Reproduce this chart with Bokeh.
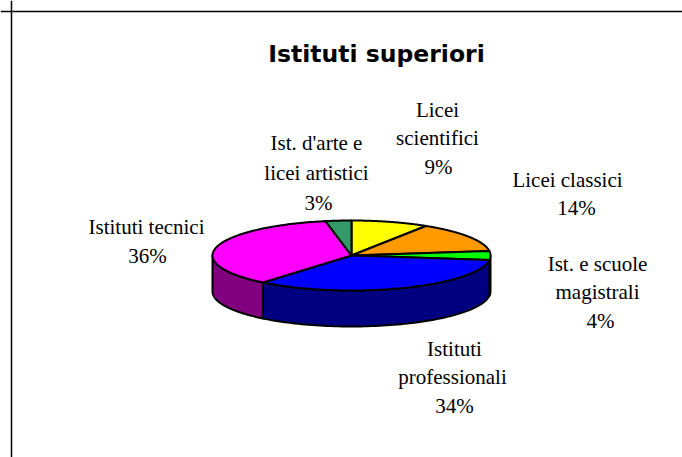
import numpy as np
from bokeh.plotting import figure
from bokeh.models import Range1d, Span
from bokeh.core.properties import value
from bokeh.embed import file_html
from bokeh.resources import INLINE

title = "Istituti superiori"
categories = ["Licei scientifici", "Licei classici", "Ist. e scuole magistrali",
              "Istituti professionali", "Istituti tecnici", "Ist. d'arte e licei artistici"]
shares = [9, 14, 4, 34, 36, 3]
top_colors = ["#ffff00", "#ff9900", "#00ff00", "#0000ff", "#ff00ff", "#339966"]
side_colors = ["#808000", "#804c00", "#008000", "#000080", "#800080", "#1a4d33"]

label_lines = [["Licei", "scientifici", "9%"], ["Licei classici", "14%"],
               ["Ist. e scuole", "magistrali", "4%"], ["Istituti", "professionali", "34%"],
               ["Istituti tecnici", "36%"], ["Ist. d'arte e", "licei artistici", "3%"]]

# layout in page pixels
CX, CY, RX, RY, DEPTH = 351, 255, 139, 35, 36
label_xs = [[437, 437, 438], [567, 576], [597, 597, 600], [454, 452, 454], [146, 147], [316, 316, 318]]
label_ys = [[109, 137, 166], [179, 207], [263, 291, 320], [348, 376, 405], [226, 255], [142, 172, 202]]

p = figure(width=682, height=457, output_backend="svg", toolbar_location=None,
           x_range=Range1d(0, 682), y_range=Range1d(457, 0), min_border=0,
           outline_line_color=None, background_fill_color="white", border_fill_color="white")
p.axis.visible = False
p.grid.visible = False

p.add_layout(Span(location=11, dimension="height", line_color="black", line_width=1.5))
p.add_layout(Span(location=11, dimension="width", line_color="black", line_width=1.5))

edges = np.cumsum([0] + shares) / sum(shares) * 2 * np.pi  # clockwise from 12 o'clock

def ex(t): return CX + RX * np.sin(t)
def ey(t): return CY - RY * np.cos(t)

# side walls: only the front half (90..270 degrees clockwise) is visible
for a, b, col in zip(edges[:-1], edges[1:], side_colors):
    lo, hi = max(a, np.pi / 2), min(b, 3 * np.pi / 2)
    if hi <= lo:
        continue
    t = np.linspace(lo, hi, 80)
    xs = np.r_[ex(t), ex(t[::-1])]
    ys = np.r_[ey(t), ey(t[::-1]) + DEPTH]
    p.patch(xs, ys, fill_color=col, line_color="black", line_width=2, line_join="round")

# top face
for a, b, col in zip(edges[:-1], edges[1:], top_colors):
    t = np.linspace(a, b, 120)
    xs = np.r_[CX, ex(t)]
    ys = np.r_[CY, ey(t)]
    p.patch(xs, ys, fill_color=col, line_color="black", line_width=2, line_join="round")

for lines, xs, ys in zip(label_lines, label_xs, label_ys):
    p.text(xs, ys, text=lines, text_align="center", text_baseline="middle",
           text_font=value("Liberation Serif"), text_font_size="21px", text_color="black")

p.text([376], [53], text=[title], text_align="center", text_baseline="middle",
       text_font=value("DejaVu Sans"), text_font_style="bold", text_font_size="23.5px", text_color="black")

open("out.html", "w").write(file_html(p, INLINE))
